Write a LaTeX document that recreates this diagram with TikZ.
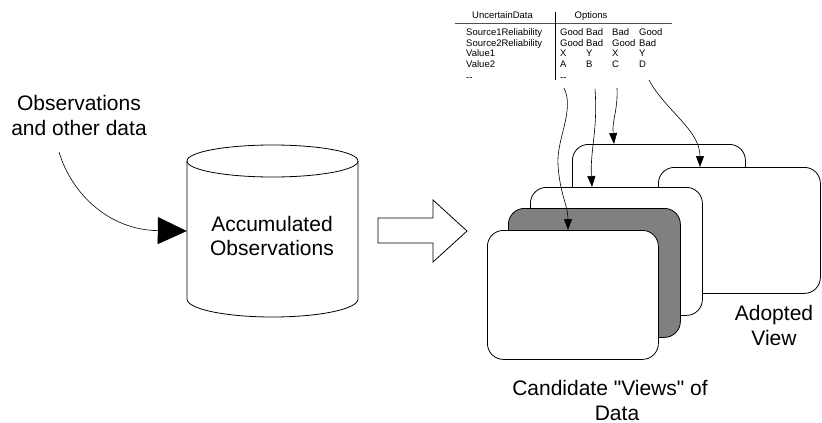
\documentclass[tikz,border=0pt]{standalone}
\usepackage{fontspec}
\setmainfont{Liberation Sans}[Ligatures=TeXOff]
\usetikzlibrary{arrows.meta}
\tikzset{
  box/.style={draw, fill=white, rounded corners=16pt, line width=0.8pt, inner sep=0, anchor=north west},
  lbl/.style={font=\fontsize{21}{24}\selectfont, anchor=base, inner sep=0},
  tbl/.style={font=\fontsize{9.5}{11}\selectfont, anchor=base west, inner sep=0},
  feed/.style={-{Triangle[length=11pt,width=8pt]}, line width=0.6pt},
  bigtip/.style={-{Triangle[length=29pt,width=27pt]}, line width=0.6pt},
  rule/.style={line width=0.8pt},
}
\begin{document}
\begin{tikzpicture}[x=1pt,y=-1pt]
\useasboundingbox (0,0) rectangle (822,423);
% source label
\node[lbl] (obs1) at (79,110) {Observations};
\node[lbl] (obs2) at (79,135) {and other data};
\coordinate (obsend) at (59,152);
% cylinder
\node[minimum width=171pt, minimum height=139pt, inner sep=0] (acc) at (272.5,231) {};
\draw[line width=0.8pt] (187,161) -- (187,299) arc[start angle=180, end angle=360, x radius=85.5pt, y radius=18pt] -- (358,161);
\draw[line width=0.8pt] (272.5,161) ellipse [x radius=85.5pt, y radius=16pt];
\node[lbl] (acct1) at (272,231.5) {Accumulated};
\node[lbl] (acct2) at (272,255.5) {Observations};
\draw[bigtip] (obsend) .. controls (72,195) and (110,230) .. (acc.west);
% block arrow
\draw[line width=0.8pt] (378,218) -- (433,218) -- (433,200) -- (467,231) -- (433,262) -- (433,243) -- (378,243) -- cycle;
% views
\node[box, minimum width=173pt, minimum height=130pt] (v1) at (572,144) {};
\node[box, minimum width=162pt, minimum height=126pt] (adopt) at (658,167) {};
\node[box, minimum width=172pt, minimum height=128pt] (v3) at (530,187) {};
\node[box, minimum width=172pt, minimum height=129pt, fill={rgb,255:red,128;green,128;blue,128}] (v2) at (508,208) {};
\node[box, minimum width=171pt, minimum height=129pt] (v0) at (487,230) {};
\node[lbl] (adl1) at (774,320) {Adopted};
\node[lbl] (adl2) at (774,345) {View};
\node[lbl] (cand1) at (610,395) {Candidate "Views" of};
\node[lbl] (cand2) at (617,420) {Data};
% table
\node[tbl] (hU) at (472,18.5) {UncertainData};
\node[tbl, anchor=base] (hO) at (591,18.5) {Options};
\draw[rule, draw={rgb,255:red,80;green,80;blue,80}] (455,23) -- (672,23);
\draw[rule] (555,12) -- (555,80);
\node[tbl] (r1) at (466,35.5) {Source1Reliability};
\node[tbl] (r2) at (466,46) {Source2Reliability};
\node[tbl] (r3) at (466,56.5) {Value1};
\node[tbl] (r4) at (466,67) {Value2};
\node[tbl] (r5) at (466,80) {--};
\node[tbl] (c11) at (560,35.5) {Good};
\node[tbl] (c12) at (586,35.5) {Bad};
\node[tbl] (c13) at (612,35.5) {Bad};
\node[tbl] (c14) at (639,35.5) {Good};
\node[tbl] (c21) at (560,46) {Good};
\node[tbl] (c22) at (586,46) {Bad};
\node[tbl] (c23) at (612,46) {Good};
\node[tbl] (c24) at (639,46) {Bad};
\node[tbl] (c31) at (560,56.5) {X};
\node[tbl] (c32) at (586,56.5) {Y};
\node[tbl] (c33) at (612,56.5) {X};
\node[tbl] (c34) at (639,56.5) {Y};
\node[tbl] (c41) at (560,67) {A};
\node[tbl] (c42) at (586,67) {B};
\node[tbl] (c43) at (612,67) {C};
\node[tbl] (c44) at (639,67) {D};
\node[tbl] (c51) at (560,80) {--};
% option arrows
\coordinate (s1) at (564,88);
\coordinate (s2) at (595,89);
\coordinate (s3) at (617,88);
\coordinate (s4) at (649,80);
\coordinate (e1) at (568,230);
\coordinate (e2) at (592,187);
\coordinate (e3) at (614,144);
\coordinate (e4) at (700,167);
\draw[feed] (s1) .. controls (575,110) and (556,140) .. (558,165) .. controls (560,195) and (568,205) .. (e1);
\draw[feed] (s2) .. controls (598,130) and (590,150) .. (e2);
\draw[feed] (s3) .. controls (618,110) and (612,120) .. (e3);
\draw[feed] (s4) .. controls (665,110) and (700,130) .. (e4);
\end{tikzpicture}
\end{document}
